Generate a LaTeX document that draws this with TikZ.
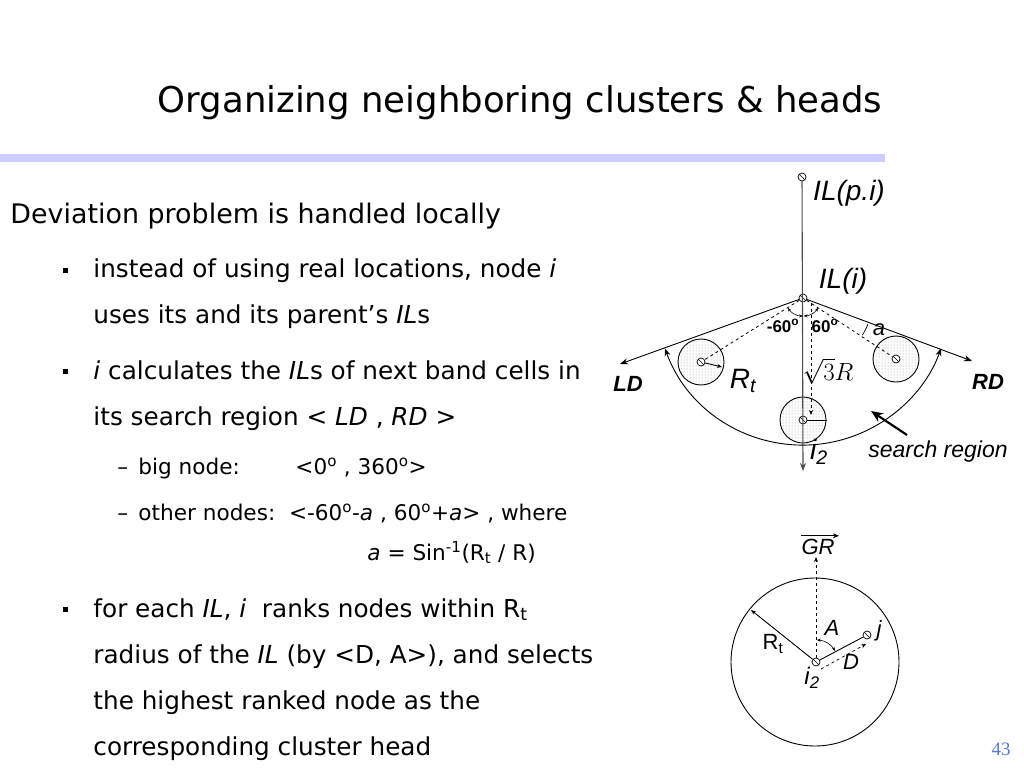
\documentclass[tikz,border=0pt]{standalone}
\usepackage{fontspec}
\setmainfont{DejaVu Sans}
\newfontfamily\hel{Liberation Sans}
\newfontfamily\tms{Liberation Serif}
\usetikzlibrary{arrows.meta,patterns}
\definecolor{barcol}{RGB}{204,204,255}
\definecolor{pagecol}{RGB}{90,120,210}
\begin{document}
\begin{tikzpicture}[x=1pt,y=-1pt,line width=0.9pt,
  ilnode/.style={circle,draw,inner sep=0pt,minimum size=8pt,fill=white,line width=0.7pt,
    path picture={\draw[line width=0.6pt] (path picture bounding box.north west) -- (path picture bounding box.south east);}},
  cell/.style={circle,draw,inner sep=0pt,minimum size=46pt,pattern=dots,pattern color=gray!80},
  lbl/.style={inner sep=0pt,font=\hel\itshape\fontsize{28}{28}\selectfont},
  lblm/.style={inner sep=0pt,font=\hel\itshape\fontsize{22}{22}\selectfont},
  lblb/.style={inner sep=0pt,font=\hel\bfseries\itshape\fontsize{22}{22}\selectfont},
  angl/.style={inner sep=0pt,font=\hel\bfseries\fontsize{17}{17}\selectfont},
  head/.style={anchor=base west,inner sep=0pt,font=\fontsize{26.9}{26.9}\selectfont},
  body/.style={anchor=base west,inner sep=0pt,font=\fontsize{24.7}{24.7}\selectfont},
  sub/.style={anchor=base west,inner sep=0pt,font=\fontsize{21.6}{21.6}\selectfont},
  bul/.style={rectangle,fill=black,inner sep=0pt,minimum size=5pt},
  tip/.style={-{Stealth[length=8pt,width=6pt]}},
  stip/.style={-{Stealth[length=5pt,width=4pt]}},
  ]
\useasboundingbox (0,0) rectangle (1024,768);
\fill[white] (0,0) rectangle (1024,768);

% title and bar
\node[inner sep=0pt,anchor=base,font=\fontsize{35.5}{35.5}\selectfont] (title) at (520,112) {Organizing neighboring clusters \& heads};
\fill[barcol] (0,154) rectangle (885,162);

% text
\node[head] (t0) at (10,223) {Deviation problem is handled locally};
\node[bul] (b1) at (65.5,270) {};
\node[body] (t1) at (93,277) {instead of using real locations, node \textit{i}};
\node[body] (t2) at (93,323) {uses its and its parent’s \textit{IL}s};
\node[bul] (b2) at (65.5,371) {};
\node[body] (t3) at (93,379) {\textit{i} calculates the \textit{IL}s of next band cells in};
\node[body] (t4) at (93,425) {its search region < \textit{LD} , \textit{RD} >};
\node[sub] (d1) at (117,474) {–};
\node[sub] (t5) at (138,474) {big node:};
\node[sub] (t5b) at (295,474) {<0\textsuperscript{o} , 360\textsuperscript{o}>};
\node[sub] (d2) at (117,520) {–};
\node[sub] (t6) at (138,520) {other nodes:\ \ <-60\textsuperscript{o}-\textit{a} , 60\textsuperscript{o}+\textit{a}> , where};
\node[sub] (t7) at (367,560) {\textit{a} = Sin\textsuperscript{-1}(R\textsubscript{t} / R)};
\node[bul] (b3) at (65.5,609) {};
\node[body] (t8) at (93,617) {for each \textit{IL}, \textit{i}\ \ ranks nodes within R\textsubscript{t}};
\node[body] (t9) at (93,663) {radius of the \textit{IL} (by <D, A>), and selects};
\node[body] (t10) at (93,709) {the highest ranked node as the};
\node[body] (t11) at (93,755) {corresponding cluster head};

\node[inner sep=0pt,font=\tms\fontsize{19}{19}\selectfont,text=pagecol] (pg) at (1001,749) {43};

% ---- top diagram ----
\coordinate (vbot) at (803,471);
\coordinate (ldend) at (620,364);
\coordinate (rdend) at (972,361);
\node[cell] (c1) at (701,362) {};
\node[cell] (c2) at (896,359) {};
\node[cell] (c3) at (803,420) {};
\node[ilnode] (ilp) at (802,177) {};
\node[ilnode] (ili) at (803,298) {};
\node[ilnode] (n1) at (701,362) {};
\node[ilnode] (n2) at (896,359) {};
\node[ilnode] (n3) at (803,420) {};

\draw[gray!60!black,line width=1.1pt,tip] (ilp) -- (vbot);
\draw[tip] (ili) -- (ldend);
\draw[tip] (ili) -- (rdend);
\draw[dashed,line width=0.8pt] (ili) -- (n1);
\draw[dashed,line width=0.8pt] (ili) -- (n2);
\coordinate (dv1) at (811,303);
\coordinate (dv2) at (811,415);
\draw[dashed,line width=0.8pt,stip] (dv1) -- (dv2);
\coordinate (rt1) at (722,367);
\draw[stip] (n1) -- (rt1);
\coordinate (rr3) at (827,420);
\draw (n3) -- (rr3);
% search region arc
\draw[{Stealth[length=8pt,width=6pt]}-{Stealth[length=8pt,width=6pt]}] ([shift={(160:147)}]ili.center) arc[start angle=160,end angle=20,radius=147];
% angle arcs
\draw[line width=0.6pt,{Stealth[length=4pt,width=3pt]}-{Stealth[length=4pt,width=3pt]}] ([shift={(147:18)}]ili.center) arc[start angle=147,end angle=90,radius=18];
\draw[line width=0.6pt,{Stealth[length=4pt,width=3pt]}-{Stealth[length=4pt,width=3pt]}] ([shift={(88:18)}]ili.center) arc[start angle=88,end angle=33,radius=18];
\draw[line width=0.7pt] ([shift={(22:70)}]ili.center) arc[start angle=22,end angle=32,radius=70];
% search region arrow
\coordinate (sa1) at (907,435);
\coordinate (sa2) at (871,411);
\draw[line width=2.2pt,-{Stealth[length=12pt,width=10pt]}] (sa1) -- (sa2);

% labels top diagram
\node[lbl] (lilp) at (849,193) {IL(p.i)};
\node[lbl] (lili) at (843,281) {IL(i)};
\node[angl] (m60) at (783,326) {-60\textsuperscript{o}};
\node[angl] (p60) at (825,326) {60\textsuperscript{o}};
\node[lblm] (la) at (879,330) {a};
\node[lblb] (lld) at (628,384) {LD};
\node[lblb] (lrd) at (988,382) {RD};
\node[lbl] (lrt) at (743,381) {R\textsubscript{t}};
\node[inner sep=0pt,font=\fontsize{23}{23}\selectfont] (lsq) at (828,371) {$\sqrt{3}R$};
\node[lbl] (li2) at (819,452) {i\textsubscript{2}};
\node[inner sep=0pt,font=\hel\itshape\fontsize{23}{23}\selectfont] (lsr) at (938,452) {search region};

% ---- bottom diagram ----
\node[circle,draw,inner sep=0pt,minimum size=168pt] (big) at (815,662) {};
\node[ilnode] (i2) at (816,662) {};
\node[ilnode] (j) at (867,635) {};
\coordinate (grtop) at (816,557);
\draw[dashed,line width=0.8pt,stip] (i2) -- (grtop);
\coordinate (rtb) at (751,610);
\draw[stip] (i2) -- (rtb);
\draw (i2) -- (j);
\coordinate (dd1) at (821,669);
\coordinate (dd2) at (866,644);
\draw[dashed,line width=0.7pt,stip] (dd1) -- (dd2);
\draw[line width=0.6pt,{Stealth[length=4pt,width=3pt]}-{Stealth[length=4pt,width=3pt]}] ([shift={(-88:22)}]i2.center) arc[start angle=-88,end angle=-30,radius=22];

\node[inner sep=0pt,font=\hel\itshape\fontsize{22}{22}\selectfont] (lgr) at (818,547) {GR};
\draw[line width=0.9pt,-{Stealth[length=6pt,width=5pt]}] ([yshift=3pt]lgr.north west) -- ([yshift=3pt,xshift=4pt]lgr.north east);
\node[inner sep=0pt,font=\hel\fontsize{22}{22}\selectfont] (lrt2) at (773,644) {R\textsubscript{t}};
\node[lblm] (lA) at (832,628) {A};
\node[lblm] (lD) at (851,662) {D};
\node[lblm] (lj) at (879,631) {j};
\node[inner sep=0pt,font=\hel\itshape\fontsize{24}{24}\selectfont] (li2b) at (812,678) {i\textsubscript{2}};
\end{tikzpicture}
\end{document}
